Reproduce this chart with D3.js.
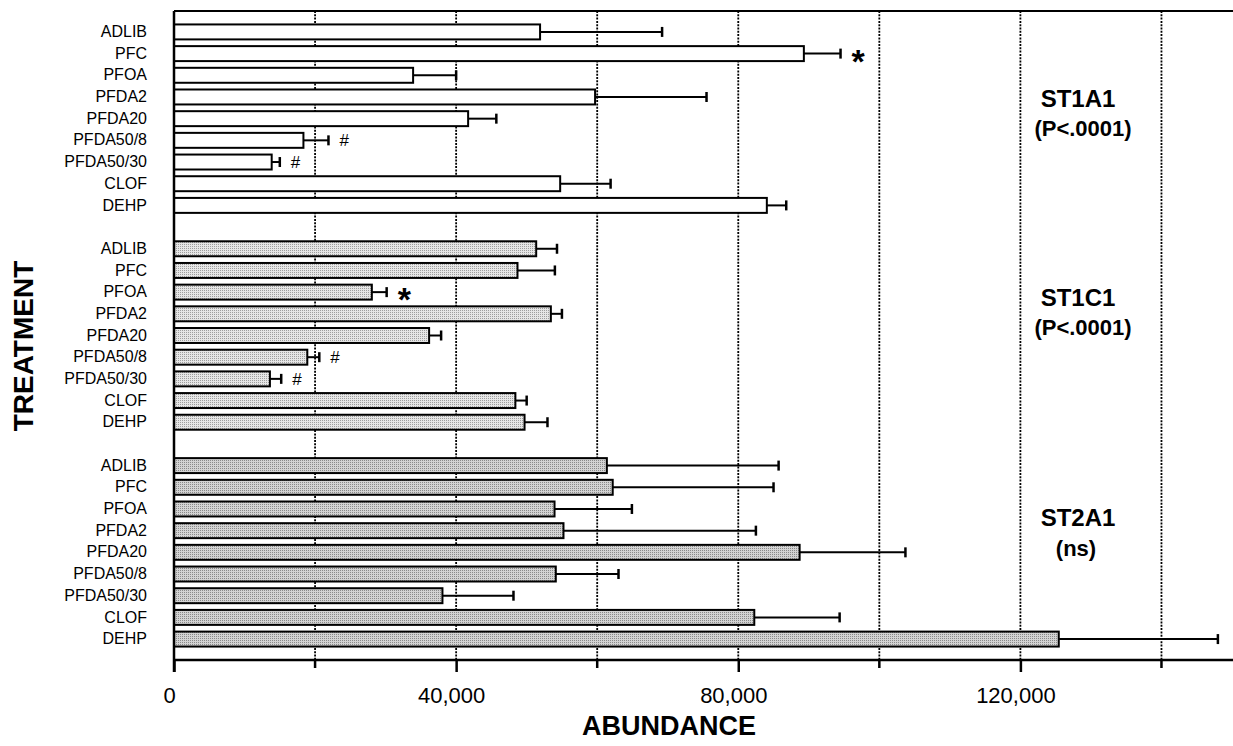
<!DOCTYPE html>
<html>
<head>
<meta charset="utf-8">
<script src="https://cdn.jsdelivr.net/npm/d3@7"></script>
<style>
  body { margin: 0; background: #fff; }
  svg { display: block; font-family: Arial, "Liberation Sans", sans-serif; }
</style>
</head>
<body>
<div id="chart"></div>
<script>
const width = 1233;
const height = 746;

// data
const treatments = ["ADLIB", "PFC", "PFOA", "PFDA2", "PFDA20", "PFDA50/8", "PFDA50/30", "CLOF", "DEHP"];
const enzymes = ["ST1A1", "ST1C1", "ST2A1"];
const pValues = ["(P<.0001)", "(P<.0001)", "(ns)"];

const st1a1Means = [51900, 89300, 33900, 59700, 41700, 18350, 13850, 54750, 84050];
const st1a1Errors = [17300, 5200, 6100, 15800, 4000, 3550, 1150, 7150, 2750];
const st1a1Marks = ["", "*", "", "", "", "#", "#", "", ""];

const st1c1Means = [51350, 48700, 28050, 53430, 36170, 18900, 13600, 48400, 49700];
const st1c1Errors = [2950, 5300, 2100, 1570, 1700, 1700, 1600, 1600, 3250];
const st1c1Marks = ["", "", "*", "", "", "#", "#", "", ""];

const st2a1Means = [61370, 62200, 53950, 55220, 88700, 54130, 38060, 82270, 125440];
const st2a1Errors = [24350, 22800, 10970, 27280, 15000, 8890, 10070, 12100, 22560];
const st2a1Marks = ["", "", "", "", "", "", "", "", ""];

const xMajorTicks = [0, 40000, 80000, 120000];
const xMinorTicks = [20000, 60000, 100000, 140000];
const gridTicks = [20000, 40000, 60000, 80000, 100000, 120000, 140000];

// stipple fills: [background, dot]
const groupFills = [null, ["#e6e6e6", "#9e9e9e"], ["#d3d3d3", "#8a8a8a"]];

const means = [st1a1Means, st1c1Means, st2a1Means];
const errors = [st1a1Errors, st1c1Errors, st2a1Errors];
const marks = [st1a1Marks, st1c1Marks, st2a1Marks];

// one row per bar, with an empty row between the enzyme groups
const rows = [];
enzymes.forEach((enzyme, g) => {
  if (g > 0) rows.push({ key: "gap" + g, label: "" });
  treatments.forEach((t, i) => {
    rows.push({
      key: enzyme + "|" + t,
      label: t,
      group: g,
      mean: means[g][i],
      err: errors[g][i],
      mark: marks[g][i]
    });
  });
});
const bars = rows.filter(d => d.group !== undefined);

const plotLeft = 174;
const plotRight = 1232;
const plotTop = 11;
const plotBottom = 660;

const x = d3.scaleLinear()
  .domain([0, 150000])
  .range([plotLeft, plotRight]);

const y = d3.scaleBand()
  .domain(rows.map(d => d.key))
  .range([plotTop, plotBottom])
  .paddingInner(0.31)
  .paddingOuter(0.62);

const cy = key => y(key) + y.bandwidth() / 2;

const svg = d3.select("#chart").append("svg")
  .attr("width", width)
  .attr("height", height);

const defs = svg.append("defs");
groupFills.forEach((f, i) => {
  if (!f) return;
  const p = defs.append("pattern")
    .attr("id", "stipple" + i)
    .attr("width", 2)
    .attr("height", 2)
    .attr("patternUnits", "userSpaceOnUse");
  p.append("rect").attr("width", 2).attr("height", 2).attr("fill", f[0]);
  p.append("rect").attr("width", 1).attr("height", 1).attr("fill", f[1]);
});

// dotted vertical grid
svg.append("g")
  .selectAll("line")
  .data(gridTicks)
  .join("line")
    .attr("x1", d => x(d))
    .attr("x2", d => x(d))
    .attr("y1", plotTop)
    .attr("y2", plotBottom)
    .attr("stroke", "#000")
    .attr("stroke-width", 1.8)
    .attr("stroke-dasharray", "2,1.3");

// error bars
const errG = svg.append("g")
  .attr("stroke", "#000")
  .attr("stroke-width", 2);

errG.selectAll("line.whisker")
  .data(bars)
  .join("line")
    .attr("class", "whisker")
    .attr("x1", d => x(d.mean))
    .attr("x2", d => x(d.mean + d.err))
    .attr("y1", d => cy(d.key))
    .attr("y2", d => cy(d.key));

errG.selectAll("line.cap")
  .data(bars)
  .join("line")
    .attr("class", "cap")
    .attr("stroke-width", 2.5)
    .attr("x1", d => x(d.mean + d.err))
    .attr("x2", d => x(d.mean + d.err))
    .attr("y1", d => cy(d.key) - 5)
    .attr("y2", d => cy(d.key) + 5);

// bars
svg.append("g")
  .selectAll("rect")
  .data(bars)
  .join("rect")
    .attr("x", x(0))
    .attr("y", d => y(d.key))
    .attr("width", d => x(d.mean) - x(0))
    .attr("height", y.bandwidth())
    .attr("fill", d => groupFills[d.group] ? `url(#stipple${d.group})` : "#fff")
    .attr("stroke", "#000")
    .attr("stroke-width", 2);

// significance marks
svg.append("g")
  .selectAll("text")
  .data(bars.filter(d => d.mark))
  .join("text")
    .attr("x", d => x(d.mean + d.err) + (d.mark === "*" ? 11 : 11))
    .attr("y", d => cy(d.key))
    .attr("dy", d => d.mark === "*" ? "0.56em" : "0.36em")
    .style("font-size", d => d.mark === "*" ? "34px" : "17px")
    .style("font-weight", d => d.mark === "*" ? "bold" : null)
    .text(d => d.mark);

// top frame line
svg.append("line")
  .attr("x1", plotLeft)
  .attr("x2", width)
  .attr("y1", plotTop)
  .attr("y2", plotTop)
  .attr("stroke", "#000")
  .attr("stroke-width", 2);

// left axis with treatment names
const yAxis = svg.append("g")
  .attr("transform", `translate(${plotLeft},0)`)
  .call(d3.axisLeft(y)
    .tickSize(0)
    .tickPadding(27)
    .tickFormat(k => rows.find(r => r.key === k).label));
yAxis.select(".domain").remove();
yAxis.selectAll("text")
  .attr("fill", "#000")
  .style("font-size", "16px")
  .style("font-family", "Arial, 'Liberation Sans', sans-serif");

svg.append("line")
  .attr("x1", plotLeft)
  .attr("x2", plotLeft)
  .attr("y1", plotTop)
  .attr("y2", plotBottom + 12)
  .attr("stroke", "#000")
  .attr("stroke-width", 2.5);

// bottom axis: labelled major ticks and short minor ticks
const xAxis = svg.append("g")
  .attr("transform", `translate(0,${plotBottom})`)
  .call(d3.axisBottom(x)
    .tickValues(xMajorTicks)
    .tickSize(12)
    .tickSizeOuter(0)
    .tickPadding(15)
    .tickFormat(d3.format(",")));
xAxis.select(".domain")
  .attr("d", `M${plotLeft},0H${width}`)
  .attr("stroke-width", 2.5);
xAxis.selectAll(".tick line").attr("stroke-width", 2.5);
xAxis.selectAll("text")
  .attr("fill", "#000")
  .attr("dx", -5)
  .style("font-size", "22px")
  .style("font-family", "Arial, 'Liberation Sans', sans-serif");

svg.append("g")
  .attr("transform", `translate(0,${plotBottom})`)
  .selectAll("line")
  .data(xMinorTicks)
  .join("line")
    .attr("x1", d => x(d))
    .attr("x2", d => x(d))
    .attr("y1", 0)
    .attr("y2", 8)
    .attr("stroke", "#000")
    .attr("stroke-width", 2.5);

// axis titles
svg.append("text")
  .attr("x", 669)
  .attr("y", 735)
  .attr("text-anchor", "middle")
  .style("font-size", "27px")
  .style("font-weight", "bold")
  .text("ABUNDANCE");

svg.append("text")
  .attr("transform", "translate(33,346) rotate(-90)")
  .attr("text-anchor", "middle")
  .style("font-size", "28px")
  .style("font-weight", "bold")
  .text("TREATMENT");

// enzyme names and p-values on the right
const labelAnchor = [
  { row: "ST1A1|PFDA2", shift: 10 },
  { row: "ST1C1|PFDA2", shift: -8 },
  { row: "ST2A1|PFDA2", shift: -5 }
];

const enzymeLabels = svg.append("g")
  .attr("text-anchor", "middle")
  .style("font-weight", "bold")
  .selectAll("g")
  .data(enzymes)
  .join("g")
    .attr("transform", (d, i) => `translate(1080,${cy(labelAnchor[i].row) + labelAnchor[i].shift})`);

enzymeLabels.append("text")
  .attr("x", -2)
  .style("font-size", "24px")
  .text(d => d);

enzymeLabels.append("text")
  .attr("y", (d, i) => i === 2 ? 30 : 29)
  .attr("x", (d, i) => i === 2 ? -4 : 3)
  .style("font-size", "22px")
  .text((d, i) => pValues[i]);
</script>
</body>
</html>
